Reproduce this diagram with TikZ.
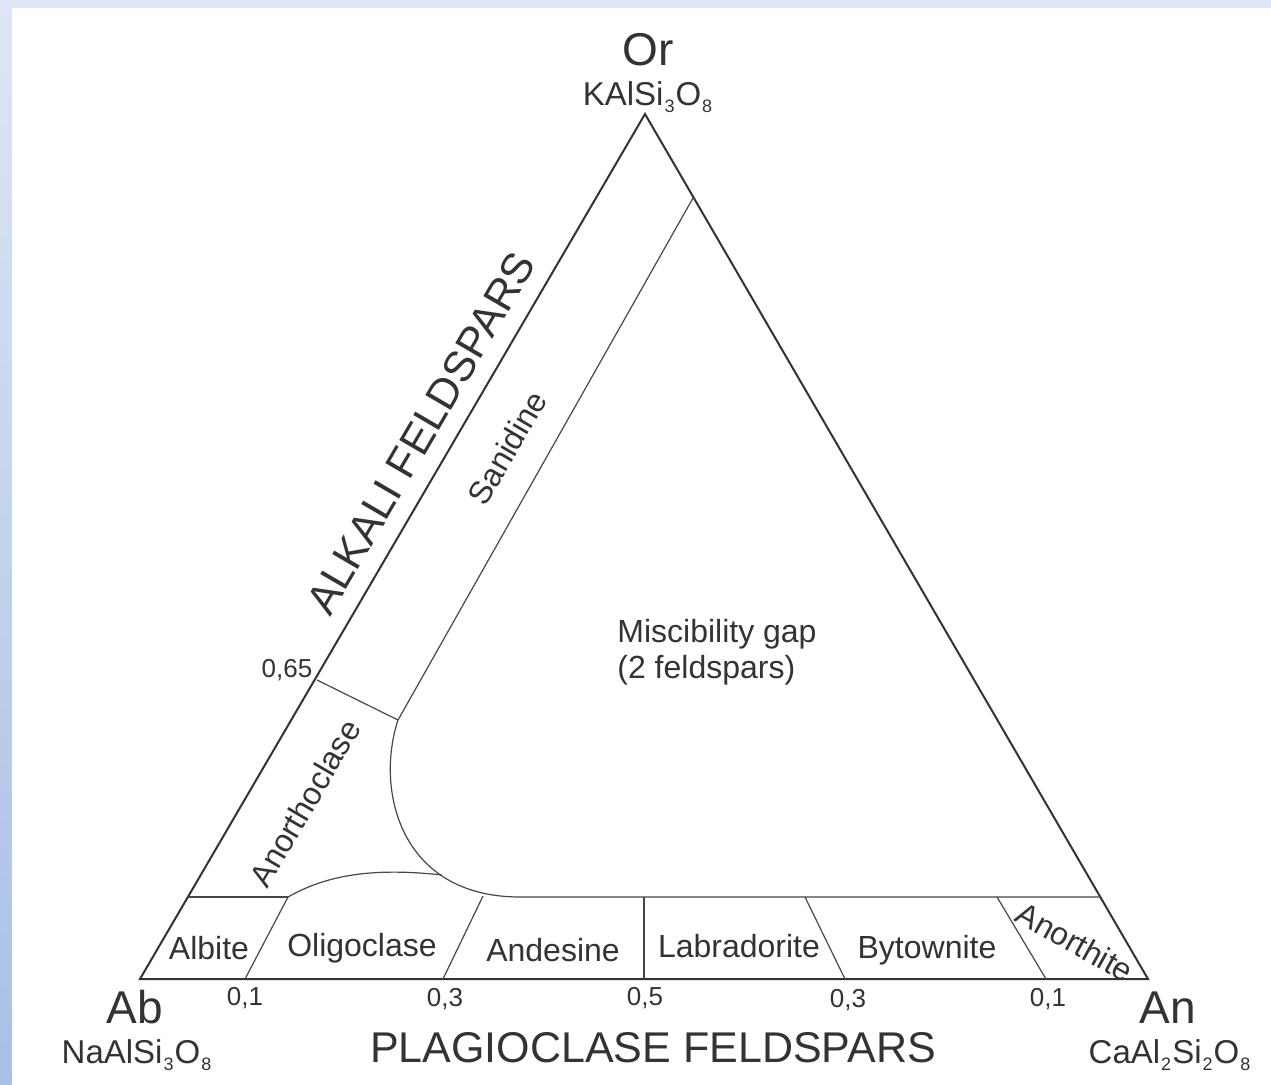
\documentclass[tikz,border=0pt]{standalone}
\usepackage{fontspec}
\setmainfont{Liberation Sans}
\usetikzlibrary{positioning}
\definecolor{ink}{HTML}{333333}
\definecolor{paleblue}{HTML}{DDE6F4}
\definecolor{deepblue}{HTML}{A9BFE6}
\tikzset{
  edge/.style={draw=ink,line width=1pt},
  bound/.style={draw=ink!90,line width=0.6pt},
  mineral/.style={text=ink,font=\fontsize{16}{18}\selectfont,inner sep=0pt},
  tick/.style={text=ink,font=\fontsize{13}{15}\selectfont,inner sep=0pt},
  pole/.style={text=ink,font=\fontsize{23}{26}\selectfont,inner sep=0pt},
  formula/.style={text=ink,font=\fontsize{16.5}{18}\selectfont,inner sep=0pt},
  series/.style={text=ink,font=\fontsize{21.5}{24}\selectfont,inner sep=0pt}
}
\newcommand{\sub}[1]{\kern0.5pt\raisebox{-0.4ex}{\fontsize{9}{10}\selectfont #1}\kern0.5pt}

\begin{document}
\begin{tikzpicture}[x=0.5pt,y=-0.5pt]
\useasboundingbox (0,0) rectangle (1271,1084);
% frame
\fill[paleblue] (0,0) rectangle (1271,1084);
\shade[top color=paleblue,bottom color=deepblue] (0,0) rectangle (12,1084);
\fill[white] (12,8) rectangle (1271,1084);
% corners of the triangle
\coordinate (Or) at (645,114);
\coordinate (Ab) at (140,979);
\coordinate (An) at (1148,979);
% points on the boundaries
\coordinate (L) at (188,897);
\coordinate (R) at (1100,897);
\coordinate (San) at (693,198);
\coordinate (K) at (398,720);
\coordinate (P) at (317,680);
\coordinate (G) at (520,897);
\coordinate (H) at (442,875);
\coordinate (b1t) at (288,897);  \coordinate (b1b) at (245,979);
\coordinate (b2t) at (483,896);  \coordinate (b2b) at (443,979);
\coordinate (b3t) at (644,897);  \coordinate (b3b) at (644,979);
\coordinate (b4t) at (805,897);  \coordinate (b4b) at (845,979);
\coordinate (b5t) at (997,897);  \coordinate (b5b) at (1046,979);
\draw[edge,line join=miter] (Ab) -- (Or) -- (An) -- cycle;
\draw[bound] (L) -- (b1t);
\draw[bound] (San) -- (K) .. controls (375,790) and (400,897) .. (G) -- (R);
\draw[bound] (P) -- (K);
\draw[bound] (b1t) .. controls (325,876) and (370,867) .. (H);
\draw[bound] (b1t) -- (b1b);
\draw[bound] (b2t) -- (b2b);
\draw[bound] (b3t) -- (b3b);
\draw[bound] (b4t) -- (b4b);
\draw[bound] (b5t) -- (b5b);
% end members
\node[pole] (or) at (648,50) {Or};
\node[formula] (orf) at (648,97) {KAlSi\sub{3}O\sub{8}};
\node[pole] (ab) at (135,1007) {Ab};
\node[formula] (abf) at (137,1055) {NaAlSi\sub{3}O\sub{8}};
\node[pole] (an) at (1168,1008) {An};
\node[formula] (anf) at (1170,1055) {CaAl\sub{2}Si\sub{2}O\sub{8}};
% series names
\node[series] (plag) at (653,1048) {PLAGIOCLASE FELDSPARS};
\node[series,rotate=59.7] (alk) at (421,433) {ALKALI FELDSPARS};
% minerals
\node[mineral,rotate=59.7] (sanidine) at (507,448) {Sanidine};
\node[mineral,rotate=59.7] (anortho) at (305,803) {Anorthoclase};
\node[mineral] (albite) at (209,948) {Albite};
\node[mineral] (oligo) at (362,948) {Oligoclase};
\node[mineral] (andes) at (553,950) {Andesine};
\node[mineral] (labra) at (739,946) {Labradorite};
\node[mineral] (bytow) at (927,950) {Bytownite};
\node[mineral,rotate=-29] (anorth) at (1075,942) {Anorthite};
\node[mineral,anchor=west,align=left] (gap) at (617,652) {Miscibility gap\\(2 feldspars)};
% ticks
\node[tick] (t65) at (287,670) {0,65};
\node[tick] (t1) at (245,998) {0,1};
\node[tick] (t2) at (445,999) {0,3};
\node[tick] (t3) at (645,998) {0,5};
\node[tick] (t4) at (848,1000) {0,3};
\node[tick] (t5) at (1048,999) {0,1};
\end{tikzpicture}
\end{document}
